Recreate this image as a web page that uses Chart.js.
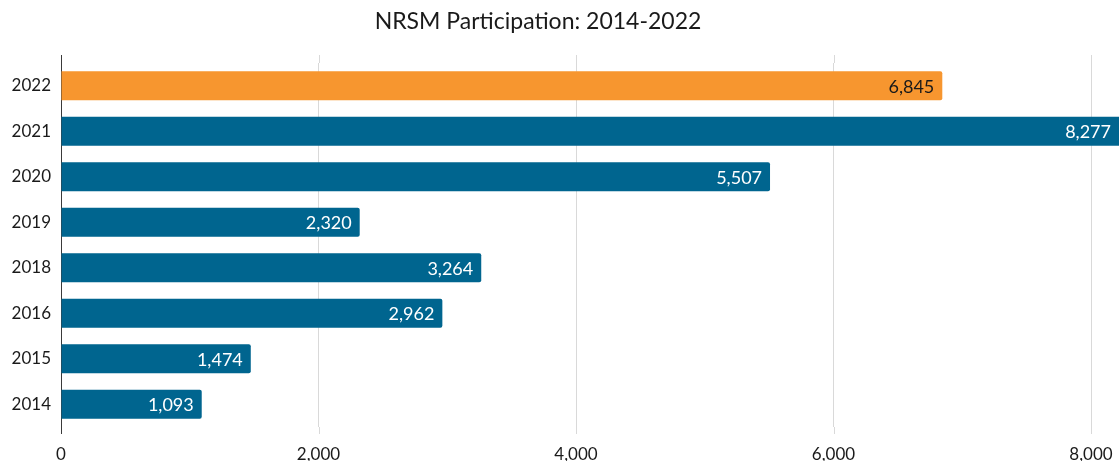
<!DOCTYPE html>
<html>
<head>
<meta charset="utf-8">
<script src="https://cdn.jsdelivr.net/npm/chart.js@4"></script>
<style>
  html, body { margin: 0; padding: 0; background: #fff; }
  #wrap { width: 1119px; height: 461px; }
</style>
</head>
<body>
<div id="wrap"><canvas id="chart" width="1119" height="461"></canvas></div>
<script>
const titleText = "NRSM Participation: 2014-2022";
const years = ["2022", "2021", "2020", "2019", "2018", "2016", "2015", "2014"];
const participants = [6845, 8277, 5507, 2320, 3264, 2962, 1474, 1093];
const xTicks = [0, 2000, 4000, 6000, 8000];

const barColors = years.map((y) => (y === "2022" ? "#F7962F" : "#00658F"));
const labelColors = years.map((y) => (y === "2022" ? "#1a1a1a" : "#ffffff"));

// value labels at the inner end of each bar
const valueLabels = {
  id: "valueLabels",
  afterDatasetsDraw(chart) {
    const ctx = chart.ctx;
    const meta = chart.getDatasetMeta(0);
    ctx.save();
    ctx.font = "18px Lato";
    ctx.textAlign = "right";
    ctx.textBaseline = "middle";
    meta.data.forEach((bar, i) => {
      const end = Math.min(bar.x, chart.width);
      ctx.fillStyle = labelColors[i];
      ctx.fillText(participants[i].toLocaleString("en-US"), end - 8, bar.y + 1);
    });
    ctx.restore();
  },
};

// gridlines and the axis line run a little past the plot area in the original
const lineExtend = {
  id: "lineExtend",
  beforeDatasetsDraw(chart) {
    const { ctx, chartArea, scales } = chart;
    ctx.save();
    ctx.lineWidth = 1;
    xTicks.forEach((t) => {
      const x = Math.round(scales.x.getPixelForValue(t)) + 0.5;
      ctx.strokeStyle = t === 0 ? "#3a3a3a" : "#d9d9d9";
      ctx.beginPath();
      ctx.moveTo(x, chartArea.top - 8);
      ctx.lineTo(x, chartArea.top);
      ctx.moveTo(x, chartArea.bottom);
      ctx.lineTo(x, chartArea.bottom + 7);
      ctx.stroke();
    });
    ctx.restore();
  },
};

// title sits a bit left of the canvas centre in the original
const chartTitle = {
  id: "chartTitle",
  afterDraw(chart) {
    const ctx = chart.ctx;
    ctx.save();
    ctx.font = "23px Lato";
    ctx.fillStyle = "#1a1a1a";
    ctx.textAlign = "center";
    ctx.textBaseline = "middle";
    ctx.fillText(titleText, 538, 22);
    ctx.restore();
  },
};

// no automatic overhang padding, the layout sets it by hand
const noScalePadding = (scale) => {
  scale.paddingLeft = 0;
  scale.paddingRight = 0;
  scale.paddingTop = 0;
  scale.paddingBottom = 0;
};

new Chart(document.getElementById("chart"), {
  type: "bar",
  data: {
    labels: years,
    datasets: [
      {
        data: participants,
        backgroundColor: barColors,
        borderRadius: 2,
        borderSkipped: "start",
        barPercentage: 0.636,
        categoryPercentage: 1,
        clip: false,
      },
    ],
  },
  options: {
    indexAxis: "y",
    responsive: false,
    animation: false,
    layout: { padding: { left: 0, right: 28, top: 63, bottom: 0 } },
    scales: {
      x: {
        min: 0,
        max: 8000,
        afterBuildTicks: (scale) => {
          scale.ticks = xTicks.map((v) => ({ value: v }));
        },
        afterFit: (scale) => {
          noScalePadding(scale);
          scale.height = 34;
        },
        ticks: {
          font: { family: "Lato", size: 17, lineHeight: 1 },
          color: "#1a1a1a",
          padding: 19,
          maxRotation: 0,
          callback: (v) => Number(v).toLocaleString("en-US"),
        },
        grid: { color: "#d9d9d9", drawTicks: false },
        border: { display: false },
      },
      y: {
        afterFit: (scale) => {
          noScalePadding(scale);
          scale.width = 61;
        },
        ticks: {
          font: { family: "Lato", size: 17 },
          color: "#1a1a1a",
          padding: 10,
        },
        grid: { display: false, drawTicks: false },
        border: { display: true, color: "#3a3a3a", width: 1 },
      },
    },
    plugins: {
      legend: { display: false },
      tooltip: { enabled: false },
      title: { display: false },
    },
  },
  plugins: [lineExtend, valueLabels, chartTitle],
});
</script>
</body>
</html>
